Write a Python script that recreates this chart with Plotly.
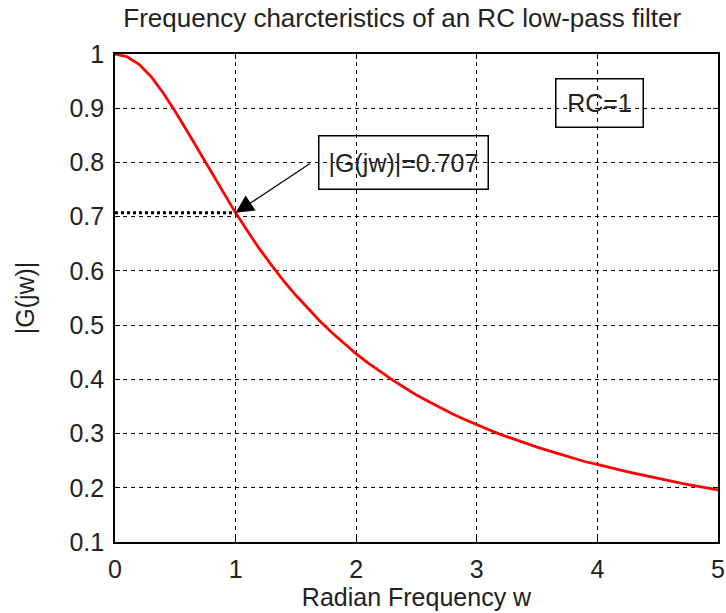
import plotly.graph_objects as go

# Data
w_vals = [0.0, 0.1, 0.2, 0.3, 0.4, 0.5, 0.6, 0.7, 0.8, 0.9,
          1.0, 1.1, 1.2, 1.3, 1.4, 1.5, 1.6, 1.7, 1.8, 1.9,
          2.0, 2.1, 2.2, 2.3, 2.4, 2.5, 2.6, 2.7, 2.8, 2.9,
          3.0, 3.1, 3.2, 3.3, 3.4, 3.5, 3.6, 3.7, 3.8, 3.9,
          4.0, 4.1, 4.2, 4.3, 4.4, 4.5, 4.6, 4.7, 4.8, 4.9, 5.0]
g_vals = [1.000, 0.995, 0.981, 0.958, 0.928, 0.894, 0.857, 0.819, 0.781, 0.743,
          0.707, 0.673, 0.640, 0.610, 0.581, 0.555, 0.530, 0.507, 0.486, 0.466,
          0.447, 0.430, 0.414, 0.399, 0.385, 0.371, 0.359, 0.347, 0.336, 0.326,
          0.316, 0.307, 0.298, 0.290, 0.282, 0.275, 0.268, 0.261, 0.254, 0.248,
          0.243, 0.237, 0.232, 0.227, 0.222, 0.217, 0.212, 0.208, 0.204, 0.200, 0.196]
x_ticks = [0, 1, 2, 3, 4, 5]
y_ticks = [0.1, 0.2, 0.3, 0.4, 0.5, 0.6, 0.7, 0.8, 0.9, 1.0]
y_ticktext = ["0.1", "0.2", "0.3", "0.4", "0.5", "0.6", "0.7", "0.8", "0.9", "1"]
cutoff_w = 1
cutoff_g = 0.707

FONT = "Liberation Sans"
FS = 25
TXT = "#222222"

fig = go.Figure()
fig.add_trace(go.Scatter(x=w_vals, y=g_vals, mode="lines",
                         line=dict(color="#ff0000", width=2.8),
                         showlegend=False))
fig.add_trace(go.Scatter(x=[0, cutoff_w], y=[cutoff_g, cutoff_g], mode="lines",
                         line=dict(color="black", width=3, dash="dot"),
                         showlegend=False))

axis_common = dict(showline=True, linecolor="black", linewidth=1.6, mirror="allticks",
                   ticks="inside", ticklen=5, tickcolor="black", automargin=False,
                   showgrid=True, gridcolor="black", gridwidth=1, griddash="4px,4px",
                   zeroline=False, tickfont=dict(family=FONT, size=FS, color=TXT))

fig.update_xaxes(range=[0, 5], tickvals=x_ticks, ticklabelstandoff=4, **axis_common,
                 title=dict(text="Radian Frequency w", font=dict(family=FONT, size=FS, color=TXT), standoff=6))
fig.update_yaxes(range=[0.1, 1.0], tickvals=y_ticks, ticktext=y_ticktext, ticklabelstandoff=4,
                 **axis_common,
                 title=dict(text="|G(jw)|", font=dict(family=FONT, size=FS, color=TXT), standoff=28))

# arrow
fig.add_annotation(x=cutoff_w, y=cutoff_g, ax=1.63, ay=0.80, axref="x", ayref="y",
                   xref="x", yref="y", text="", showarrow=True, arrowhead=2,
                   arrowsize=3, arrowwidth=1.2, arrowcolor="black", standoff=0)
fig.add_annotation(x=2.39, y=0.80, xref="x", yref="y", text="|G(jw)|=0.707",
                   showarrow=False, font=dict(family=FONT, size=FS, color=TXT),
                   bordercolor="black", borderwidth=1.5,
                   width=166, height=50)
fig.add_annotation(x=4.02, y=0.909, xref="x", yref="y", text="RC=1",
                   showarrow=False, font=dict(family=FONT, size=FS, color=TXT),
                   bordercolor="black", borderwidth=1.5, width=84, height=45)

fig.update_layout(
    width=726, height=613,
    margin=dict(l=115, r=8, t=54, b=71),
    paper_bgcolor="white", plot_bgcolor="white",
    title=dict(text="Frequency charcteristics of an RC low-pass filter",
               font=dict(family=FONT, size=26, color=TXT),
               x=0.554, xanchor="center", y=0.971, yanchor="middle"),
)

fig.write_html("out.html", config={"displayModeBar": False},
               post_script="document.body.style.margin='0';document.body.style.overflow='hidden';")
